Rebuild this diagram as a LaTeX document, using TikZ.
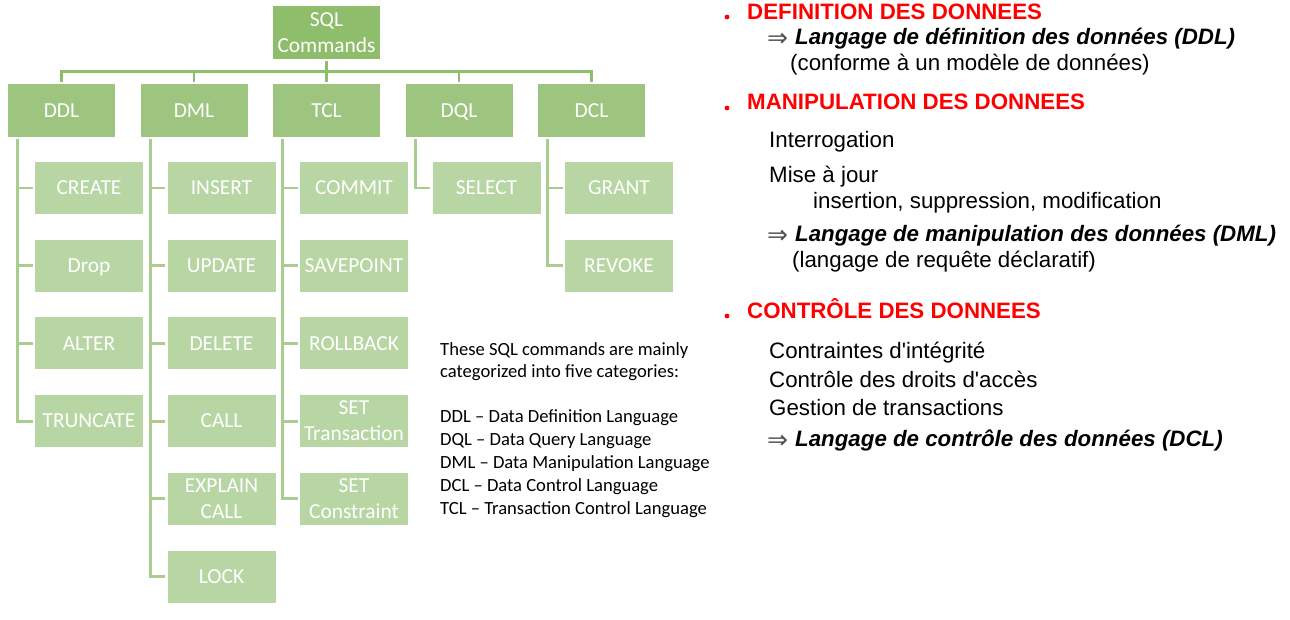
\documentclass[tikz,border=0pt]{standalone}
\usepackage{fontspec}
\newfontfamily\calibri{Carlito}
\newfontfamily\arial{Liberation Sans}[Ligatures=TeXOff]
\newfontfamily\dejavu{DejaVu Sans}
\definecolor{sqlg}{HTML}{8EBD6C}
\definecolor{catg}{HTML}{9DC580}
\definecolor{cmdg}{HTML}{B8D6A4}
\definecolor{topline}{HTML}{8EBD6C}
\definecolor{subline}{HTML}{A8CD8F}
\definecolor{arrowgray}{HTML}{505050}
\tikzset{
  box/.style={rectangle, inner sep=0pt, text=white, align=center,
    font=\calibri\fontsize{21.4}{26}\selectfont},
  sqlbox/.style={box, fill=sqlg, minimum width=107pt, minimum height=53pt},
  catbox/.style={box, fill=catg, minimum width=107pt, minimum height=53pt},
  cmdbox/.style={box, fill=cmdg, minimum width=108pt, minimum height=52pt},
  one/.style={text height=13.5pt, text depth=0pt},
  l1line/.style={draw=topline, line width=2.8pt, line join=miter},
  l2line/.style={draw=subline, line width=2.8pt, line join=miter},
  note/.style={anchor=base west, inner sep=0pt, font=\calibri\fontsize{18.6}{23}\selectfont},
  rt/.style={anchor=base west, inner sep=0pt, font=\arial\fontsize{22.3}{26}\selectfont},
  rhead/.style={rt, text=red, font=\arial\bfseries\fontsize{22.3}{26}\selectfont},
  rbi/.style={rt, font=\arial\bfseries\itshape\fontsize{22.3}{26}\selectfont},
  rarrow/.style={anchor=base west, inner sep=0pt, text=arrowgray, font=\dejavu\fontsize{25}{28}\selectfont},
}
\begin{document}
\begin{tikzpicture}[x=1pt,y=-1pt]
\useasboundingbox (0,0) rectangle (1290,620);
% top and categories
\node[sqlbox] (sql) at (326.5,32.5) {SQL\\Commands};
\node[catbox,one] (ddl) at (61.5,110.5) {DDL};
\node[catbox,one] (dml) at (194,110.5) {DML};
\node[catbox,one] (tcl) at (326.5,110.5) {TCL};
\node[catbox,one] (dql) at (459,110.5) {DQL};
\node[catbox,one] (dcl) at (591.5,110.5) {DCL};
% DDL
\node[cmdbox,one] (create) at (89,188) {CREATE};
\node[cmdbox,one] (drop) at (89,265.7) {Drop};
\node[cmdbox,one] (alter) at (89,343.4) {ALTER};
\node[cmdbox,one] (truncate) at (89,421.1) {TRUNCATE};
% DML
\node[cmdbox,one] (insert) at (221.5,188) {INSERT};
\node[cmdbox,one] (update) at (221.5,265.7) {UPDATE};
\node[cmdbox,one] (delete) at (221.5,343.4) {DELETE};
\node[cmdbox,one] (call) at (221.5,421.1) {CALL};
\node[cmdbox] (explain) at (221.5,498.8) {EXPLAIN\\CALL};
\node[cmdbox,one] (lock) at (221.5,576.5) {LOCK};
% TCL
\node[cmdbox,one] (commit) at (354,188) {COMMIT};
\node[cmdbox,one] (savepoint) at (354,265.7) {SAVEPOINT};
\node[cmdbox,one] (rollback) at (354,343.4) {ROLLBACK};
\node[cmdbox] (settrans) at (354,421.1) {SET\\Transaction};
\node[cmdbox] (setcons) at (354,498.8) {SET\\Constraint};
% DQL
\node[cmdbox,one] (select) at (486.5,188) {SELECT};
% DCL
\node[cmdbox,one] (grant) at (619,188) {GRANT};
\node[cmdbox,one] (revoke) at (619,265.7) {REVOKE};
% top connectors
\foreach \c in {ddl,dml,tcl,dql,dcl}
  \draw[l1line] ([yshift=-2pt]sql.south) -- ++(0,10) -| ([yshift=2pt]\c.north);
% sub connectors
\foreach \p/\c in {ddl/create,ddl/drop,ddl/alter,ddl/truncate,
  dml/insert,dml/update,dml/delete,dml/call,dml/explain,dml/lock,
  tcl/commit,tcl/savepoint,tcl/rollback,tcl/settrans,tcl/setcons,
  dql/select,dcl/grant,dcl/revoke}
  \draw[l2line] ([xshift=10pt,yshift=-2pt]\p.south west) |- ([xshift=-2pt]\c.west);
% note
\node[note] (n1) at (440,355) {These SQL commands are mainly};
\node[note] (n2) at (440,377) {categorized into five categories:};
\node[note] (n3) at (440,422.7) {DDL – Data Definition Language};
\node[note] (n4) at (440,445.5) {DQL – Data Query Language};
\node[note] (n5) at (440,468.3) {DML – Data Manipulation Language};
\node[note] (n6) at (440,491.1) {DCL – Data Control Language};
\node[note] (n7) at (440,514) {TCL – Transaction Control Language};
% right column
\fill[red] (727,17) circle (2.4);
\node[rhead] (h1) at (747,19.5) {DEFINITION DES DONNEES};
\node[rarrow] (a1) at (767,46.5) {⇒};
\node[rbi] (t1) at (795,44.3) {Langage de définition des données (DDL)};
\node[rt] (t2) at (790,71) {(conforme à un modèle de données)};
\fill[red] (727,108) circle (2.4);
\node[rhead] (h2) at (747,110) {MANIPULATION DES DONNEES};
\node[rt] (t3) at (769,147.7) {Interrogation};
\node[rt] (t4) at (769,182.3) {Mise à jour};
\node[rt] (t5) at (813,208.3) {insertion, suppression, modification};
\node[rarrow] (a2) at (767,243.9) {⇒};
\node[rbi] (t6) at (795,241.7) {Langage de manipulation des données (DML)};
\node[rt] (t7) at (792,267.7) {(langage de requête déclaratif)};
\fill[red] (727,316) circle (2.4);
\node[rhead] (h3) at (747,318.3) {CONTRÔLE DES DONNEES};
\node[rt] (t8) at (769,358.3) {Contraintes d'intégrité};
\node[rt] (t9) at (769,387.3) {Contrôle des droits d'accès};
\node[rt] (t10) at (769,415) {Gestion de transactions};
\node[rarrow] (a3) at (767,448.9) {⇒};
\node[rbi] (t11) at (795,446.7) {Langage de contrôle des données (DCL)};
\end{tikzpicture}
\end{document}
